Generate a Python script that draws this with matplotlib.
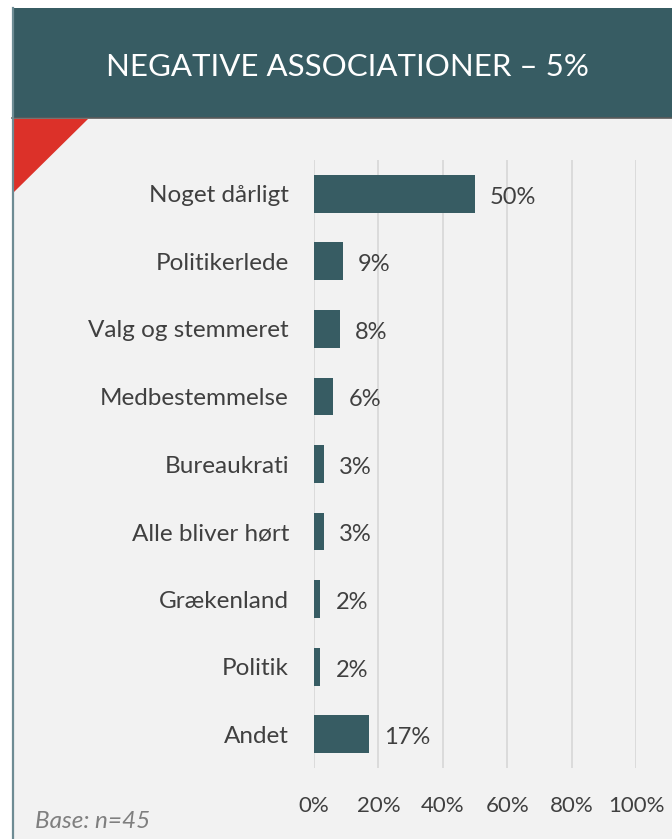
import matplotlib.pyplot as plt
from matplotlib.patches import Rectangle, Polygon

categories = ["Noget dårligt", "Politikerlede", "Valg og stemmeret",
              "Medbestemmelse", "Bureaukrati", "Alle bliver hørt",
              "Grækenland", "Politik", "Andet"]
values = [50, 9, 8, 6, 3, 3, 2, 2, 17]
value_labels = ["50%", "9%", "8%", "6%", "3%", "3%", "2%", "2%", "17%"]
x_ticks = [0, 20, 40, 60, 80, 100]
x_tick_labels = ["0%", "20%", "40%", "60%", "80%", "100%"]

teal = "#375C63"
text_grey = "#404040"
W, H = 672, 839

plt.rcParams['font.family'] = ['Lato', 'DejaVu Sans']

fig = plt.figure(figsize=(W / 100, H / 100), dpi=100)
fig.patch.set_facecolor("white")


def px(x, y):
    # pixel coords (from top-left) to figure fraction
    return x / W, 1 - y / H


# panel background and header
x0, y0 = px(12, H)
fig.patches.append(Rectangle((x0, y0), 1 - x0, px(0, 118)[1] - y0,
                             transform=fig.transFigure, facecolor="#F2F2F2",
                             edgecolor="none", zorder=0))
hx, hy = px(12, 118)
fig.patches.append(Rectangle((hx, hy), 1 - hx, px(0, 8)[1] - hy,
                             transform=fig.transFigure, facecolor=teal,
                             edgecolor="none", zorder=1))
# separator under header
fig.add_artist(plt.Line2D([hx, 1], [hy, hy], transform=fig.transFigure,
                          color="#5A5A5A", lw=1.2, zorder=2))
# left border
fig.add_artist(plt.Line2D([px(12.5, 0)[0]] * 2, [0, px(0, 8)[1]],
                          transform=fig.transFigure, color="#6E8C94",
                          lw=1.6, zorder=3))
# red corner triangle
tri = [px(13, 119), px(88, 119), px(13, 193)]
fig.patches.append(Polygon(tri, closed=True, transform=fig.transFigure,
                           facecolor="#DC3129", edgecolor="none", zorder=2))

fig.text(px(347, 0)[0], px(0, 67)[1], "NEGATIVE ASSOCIATIONER – 5%",
         color="white", fontsize=22.5, ha="center", va="center")

# chart
left, top = px(314, 160)
right, bottom = px(636, 768)
ax = fig.add_axes([left, bottom, right - left, top - bottom])
ax.set_zorder(5)
ax.set_facecolor("none")
ypos = list(range(len(categories)))
ax.barh(ypos, values, height=0.56, color=teal, zorder=2)
for y, v, lab in zip(ypos, values, value_labels):
    ax.text(v + 4.7, y + 0.05, lab, va="center", ha="left", fontsize=17,
            color=text_grey)

ax.set_xlim(0, 100)
ax.set_ylim(len(categories) - 0.5, -0.5)
ax.set_yticks(ypos)
ax.set_yticklabels(categories, fontsize=17.5, color=text_grey)
ax.set_xticks(x_ticks)
ax.set_xticklabels(x_tick_labels, fontsize=16, color=text_grey)
ax.tick_params(axis="y", length=0, pad=18)
ax.tick_params(axis="x", length=0, pad=20)
ax.grid(axis="x", color="#D9D9D9", lw=1.3, zorder=0)
for s in ax.spines.values():
    s.set_visible(False)

fig.text(px(35, 0)[0], px(0, 821)[1], "Base: n=45", style="italic",
         fontsize=17.5, color="#7F7F7F", ha="left", va="center")

fig.savefig("out.png", dpi=100)
